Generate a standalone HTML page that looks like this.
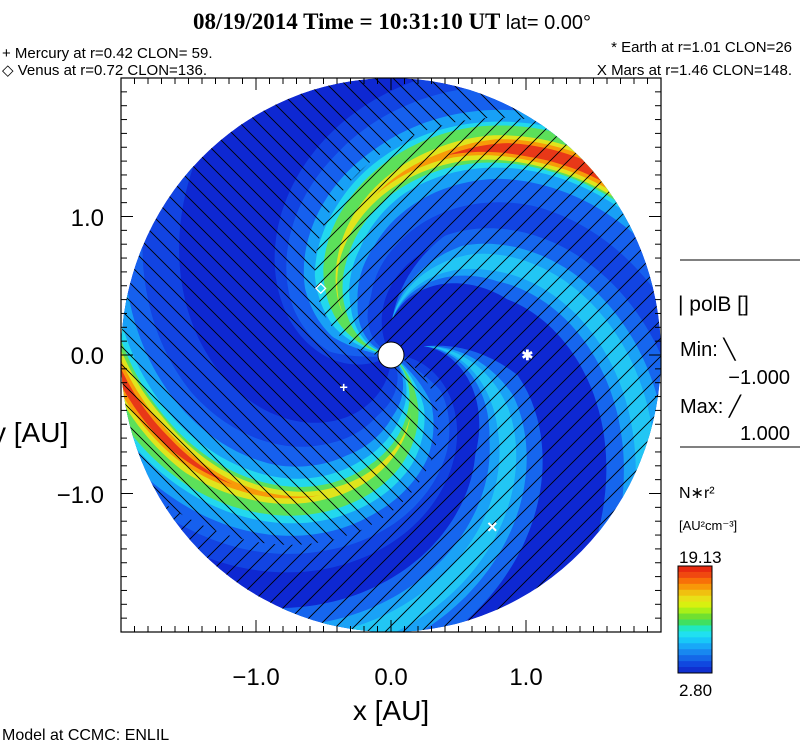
<!DOCTYPE html>
<html><head><meta charset="utf-8"><style>
body{margin:0;background:#fff;}
svg{display:block;font-family:"Liberation Sans",sans-serif;}
</style></head><body>
<svg id="s" width="800" height="746" viewBox="0 0 800 746" xmlns="http://www.w3.org/2000/svg">
<defs><clipPath id="disk"><ellipse cx="391" cy="355" rx="270" ry="277"/></clipPath></defs>
<text x="392" y="29" text-anchor="middle" font-family="Liberation Serif,serif" font-size="23" font-weight="bold">08/19/2014 Time = 10:31:10 UT <tspan font-family="Liberation Sans,sans-serif" font-weight="normal" font-size="20">lat= 0.00°</tspan></text>
<g font-size="15">
<text x="2" y="58">+ Mercury at r=0.42 CLON= 59.</text>
<text x="2" y="75">◇ Venus at r=0.72 CLON=136.</text>
<text x="792" y="52" text-anchor="end">* Earth at  r=1.01 CLON=26</text>
<text x="792" y="75" text-anchor="end">X Mars at r=1.46 CLON=148.</text>
</g>
<g id="plot"></g>
<rect x="121" y="78" width="540" height="554" fill="none" stroke="#000" stroke-width="1.2"/>
<g id="ticks" stroke="#000"></g>
<g font-size="24" fill="#000">
<text x="256" y="685" text-anchor="middle">−1.0</text>
<text x="391" y="685" text-anchor="middle">0.0</text>
<text x="526" y="685" text-anchor="middle">1.0</text>
<text x="104" y="226" text-anchor="end">1.0</text>
<text x="104" y="364" text-anchor="end">0.0</text>
<text x="104" y="503" text-anchor="end">−1.0</text>
</g>
<text x="391" y="720" text-anchor="middle" font-size="28">x [AU]</text>
<text x="-8" y="442" font-size="28">y [AU]</text>
<text x="2" y="740" font-size="16">Model at CCMC: ENLIL</text>
<g>
<line x1="680" y1="260" x2="800" y2="260" stroke="#000"/>
<text x="678" y="311" font-size="21">| polB []</text>
<text x="680" y="356" font-size="20">Min: ╲</text>
<text x="790" y="384" font-size="20" text-anchor="end">−1.000</text>
<text x="680" y="413" font-size="20">Max: ╱</text>
<text x="790" y="440" font-size="20" text-anchor="end">1.000</text>
<line x1="680" y1="447" x2="800" y2="447" stroke="#000"/>
</g>
<g>
<text x="679" y="498" font-size="16">N∗r²</text>
<text x="679" y="530" font-size="13">[AU²cm⁻³]</text>
<text x="679" y="563" font-size="17">19.13</text>
<g id="cbar"></g>
<rect x="678" y="566" width="34" height="107" fill="none" stroke="#000"/>
<text x="679" y="696" font-size="17">2.80</text>
</g>
</svg>
<script>
const NS="http://www.w3.org/2000/svg";
// data
const armOffsets=[172,321];            // spiral phase of each dense arm (deg)
const armRates=[64,67];                // winding (deg per AU)
const profileRadii=[0.15,0.45,0.8,1.15,1.5,1.75,2.0]; // AU
const levelColors=["#1660ee","#18a0f6","#22d8ee","#5ce05a","#e0e41c","#f89a08","#e83818"];
const armA=[[22,34,34,32,30,30,30],[10,20,22,20,18,18,18],[5,12,14,12,12,12,12],[2,6,8,8,9,10,10],[0,0,1,3,5,7,7],[0,0,0,0,2,5,5],[0,0,0,0,0,3,3]];
const armB=[[22,34,34,32,30,30,30],[10,20,22,20,20,20,20],[5,12,14,13,13,13,13],[2,6,8,8,9,10,10],[0,0,2,3,5,7,6],[0,0,0,0,2,4,4],[0,0,0,0,0,2,2]];
const armProfiles=[armA,armB];
const sideOffsets=[104,30];            // secondary (weaker) arms phase
const posSectorLo=[346,67];            // positive polarity sector: phase, rate
const posSectorHi=[546,64];
const planetNames=["mercury","venus","earth","mars"];
const planetX=[-0.35,-0.52,1.01,0.75];
const planetY=[-0.23,0.49,0.0,-1.25];
const planetGlyph=["+","◇","✱","×"];
const cbarColors=["#e82a10","#f04810","#f87008","#f89808","#f0c010","#e8e018","#d8f010","#a8f018","#70e030","#40e060","#20e8c0","#20e0f0","#18c8f8","#18a8f8","#1888f0","#1468e8","#1048e0","#1030d0"];

const cx=391,cy=355,sx=135,sy=138.5;
const plot=document.getElementById('plot');
function X(x){return cx+x*sx;} function Y(y){return cy-y*sy;}
function mk(t,a,p){const e=document.createElementNS(NS,t);for(const k in a)e.setAttribute(k,a[k]);(p||plot).appendChild(e);return e;}
function P(r,a){const rad=a*Math.PI/180;return X(r*Math.cos(rad)).toFixed(1)+','+Y(r*Math.sin(rad)).toFixed(1);}
function band(f,lo,hi,r0){const pts=[],back=[];for(let r=r0;r<=2.1;r+=0.02){pts.push(P(r,f(r)+hi(r)));back.push(P(r,f(r)+lo(r)));}
const aH=f(2.1)+hi(2.1),aL=f(2.1)+lo(2.1);for(let t=0;t<=1.0001;t+=0.05){pts.push(P(3,aH+(aL-aH)*t));}
return pts.concat(back.reverse()).join(' ');}
const g=mk('g',{'clip-path':'url(#disk)'});


const bg=mk('ellipse',{cx:cx,cy:cy,rx:270,ry:277,fill:'#0e28d2'},g);


function interp(arr,r){if(r<=profileRadii[0])return arr[0];for(let i=1;i<profileRadii.length;i++){if(r<=profileRadii[i]){const t=(r-profileRadii[i-1])/(profileRadii[i]-profileRadii[i-1]);return arr[i-1]+t*(arr[i]-arr[i-1]);}}return arr[arr.length-1];}
armOffsets.forEach((a0,k)=>{const p=mk('polygon',{points:band(r=>a0-armRates[k]*r,()=>-50,()=>40,0.05),fill:'#1244e2'},g);

});
function taper(r){return Math.max(0,Math.min(1,(r-0.25)/0.7));}
sideOffsets.forEach((a0,k)=>{[['#1666ee',20],['#1aa2f6',11],['#22c6f4',5]].forEach(([c,w],j)=>{const p=mk('polygon',{points:band(r=>a0-62*r,r=>-w*taper(r),r=>w*taper(r),0.25),fill:c},g);

});});
armOffsets.forEach((a0,ai)=>{const prof=armProfiles[ai];levelColors.forEach((col,li)=>{const off=li>=4?-2:0;
const p=mk('polygon',{points:band(r=>a0-armRates[ai]*r+off,r=>-interp(prof[li],r),r=>interp(prof[li],r),0.08),fill:col},g);

});});
const defs=document.querySelector('defs');
const secPts=band(r=>0,r=>posSectorLo[0]-posSectorLo[1]*r,r=>posSectorHi[0]-posSectorHi[1]*r,0);
const cp=mk('clipPath',{id:'pos'},defs);
mk('polygon',{points:secPts},cp);
const mask=mk('mask',{id:'negm'},defs);
mk('rect',{x:0,y:0,width:800,height:746,fill:'#fff'},mask);
mk('polygon',{points:secPts,fill:'#000'},mask);
const hNeg=mk('g',{stroke:'#000','stroke-width':0.9,mask:'url(#negm)'},g);


const hPos=mk('g',{stroke:'#000','stroke-width':0.9,'clip-path':'url(#pos)'},g);


for(let k=-700;k<700;k+=18){mk('line',{x1:121+k,y1:78,x2:121+k+554,y2:632},hNeg);}
for(let k=-100;k<1300;k+=18){mk('line',{x1:121+k,y1:78,x2:121+k-554,y2:632},hPos);}
const sun=mk('circle',{cx:cx,cy:cy,r:13,fill:'#fff',stroke:'#000'});


planetNames.forEach((n,i)=>{const t=mk('text',{x:X(planetX[i]),y:Y(planetY[i])+5,'text-anchor':'middle',fill:'#fff','font-size':planetGlyph[i]==='×'?18:14,'font-weight':'bold'});t.textContent=planetGlyph[i];

});
const tk=document.getElementById('ticks');
for(let i=-20;i<=20;i++){const L=i%10===0?12:6;const x=X(i/10);
if(x>121&&x<661){mk('line',{x1:x,y1:632,x2:x,y2:632-L},tk);mk('line',{x1:x,y1:78,x2:x,y2:78+L},tk);}
const y=Y(i/10);if(y>78&&y<632){mk('line',{x1:121,y1:y,x2:121+L,y2:y},tk);mk('line',{x1:661,y1:y,x2:661-L,y2:y},tk);}}
const cb=document.getElementById('cbar');const h=107/cbarColors.length;
cbarColors.forEach((c,i)=>{const r=mk('rect',{x:678,y:566+i*h,width:34,height:h+0.5,fill:c},cb);

});
</script>
</body></html>
